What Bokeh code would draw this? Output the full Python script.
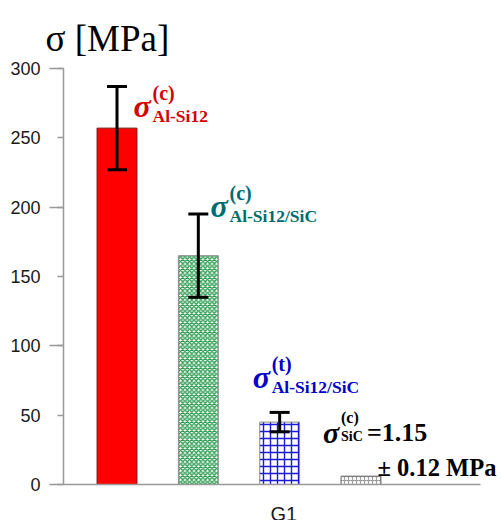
from bokeh.plotting import figure
from bokeh.models import ColumnDataSource, Whisker, TeeHead, FixedTicker, Label, Range1d
from bokeh.embed import file_html
from bokeh.resources import INLINE

# ---- data ----
positions = [1, 2, 3, 4]
values = [257, 165, 45, 6]
errors = [30, 30, 7, 0.12]
group_ticks = [3.05]
group_names = ["G1"]
y_major = [0, 50, 100, 150, 200, 250, 300]
y_minor = [0, 100, 200, 300]
sup_texts = ["(c)", "(c)", "(t)", "(c)"]
sub_texts = ["Al-Si12", "Al-Si12/SiC", "Al-Si12/SiC", "SiC"]
sic_value_text = "=1.15"
sic_err_text = "± 0.12 MPa"
title_text = "σ [MPa]"

fills = ["#ff0000", "#ffffff", "#ffffff", "#9a9a9a"]
hatches = [" ", "x", "+", "o"]
hatch_cols = ["#ff0000", "#23994a", "#1c1cd0", "#ffffff"]
hatch_scales = [5, 4.5, 7, 4]
outlines = ["#7a1010", "#8a8a8a", "#8a8a8a", "#666666"]
label_cols = ["#d40000", "#006b6b", "#0000c8", "#000000"]

serif = "Liberation Serif"
sans = "Liberation Sans"

x_lo, x_hi = 0.342, 5.469
y_lo, y_hi = 0, 300

p = figure(width=502, height=520, output_backend="svg", toolbar_location=None,
           x_range=Range1d(-0.4324, 5.74), y_range=Range1d(-25.96, 349.04),
           min_border_left=0, min_border_right=0, min_border_top=0, min_border_bottom=0)
p.outline_line_color = None
p.grid.grid_line_color = None
p.background_fill_color = "white"
p.title.visible = False

src = ColumnDataSource(dict(x=positions, top=values, fill=fills, hatch=hatches,
                            hcol=hatch_cols, hscale=hatch_scales, line=outlines))
p.vbar(x="x", top="top", width=0.49, bottom=0, source=src, fill_color="fill",
       hatch_pattern="hatch", hatch_color="hcol", hatch_scale="hscale", hatch_weight=1.4,
       line_color="line", line_width=1)

n = 3
wsrc = ColumnDataSource(dict(x=positions[:n],
                             upper=[v + e for v, e in zip(values[:n], errors[:n])],
                             lower=[v - e for v, e in zip(values[:n], errors[:n])]))
w = Whisker(base="x", upper="upper", lower="lower", source=wsrc, line_width=3,
            line_color="black", level="annotation",
            upper_head=TeeHead(size=20, line_width=3, line_color="black"),
            lower_head=TeeHead(size=20, line_width=3, line_color="black"))
p.add_layout(w)

# axes
ya = p.yaxis[0]
ya.fixed_location = x_lo
ya.bounds = (y_lo, y_hi)
ya.ticker = FixedTicker(ticks=y_major, minor_ticks=y_minor)
ya.axis_line_color = "#999999"
ya.axis_line_width = 1.5
ya.major_tick_line_color = "#999999"
ya.major_tick_line_width = 1.5
ya.minor_tick_line_color = "#999999"
ya.minor_tick_line_width = 1.5
ya.major_tick_in = 0
ya.major_tick_out = 6
ya.minor_tick_in = 0
ya.minor_tick_out = 14
ya.major_label_standoff = 9
ya.major_label_text_font = sans
ya.major_label_text_font_size = "18px"
ya.major_label_text_color = "#1a1a1a"

xa = p.xaxis[0]
xa.fixed_location = y_lo
xa.bounds = (x_lo, x_hi)
xa.ticker = FixedTicker(ticks=group_ticks)
xa.major_label_overrides = {t: n_ for t, n_ in zip(group_ticks, group_names)}
xa.axis_line_color = "#999999"
xa.axis_line_width = 1.5
xa.major_tick_line_color = None
xa.minor_tick_line_color = None
xa.major_label_standoff = 12
xa.major_label_text_font = sans
xa.major_label_text_font_size = "20px"
xa.major_label_text_color = "#1a1a1a"


def lab(x, y, dx, dy, text, size, color="black", style="normal"):
    p.add_layout(Label(x=x, y=y, x_offset=dx, y_offset=dy, text=text,
                       text_font=serif, text_font_style=style,
                       text_font_size=size, text_color=color,
                       text_baseline="alphabetic", level="overlay"))


# axis title above the top of the value axis
lab(x_lo, y_hi, -18, 30, title_text, "37px")

# sigma labels for first three bars: offsets of sigma relative to error-bar top
sig_off = [(16.5, -19), (12.2, 8.6), (-27, 35)]
for i in range(3):
    ax = positions[i]
    ay = values[i] + errors[i]
    dx, dy = sig_off[i]
    c = label_cols[i]
    lab(ax, ay, dx, dy, "σ", "32px", c, "bold italic")
    lab(ax, ay, dx + 19, dy + 13, sup_texts[i], "20px", c, "bold")
    lab(ax, ay, dx + 19, dy - 10, sub_texts[i], "17.5px", c, "bold")

# SiC label, relative to gray bar top
ax, ay = positions[3], values[3]
dx, dy = -38, 43.7
lab(ax, ay, dx, dy, "σ", "30px", "black", "bold italic")
lab(ax, ay, dx + 18, dy + 15, sup_texts[3], "16px", "black", "bold")
lab(ax, ay, dx + 18, dy - 4, sub_texts[3], "14px", "black", "bold")
lab(ax, ay, dx + 44, dy, sic_value_text, "26px", "black", "bold")
lab(ax, ay, 16.5, 8.7, sic_err_text, "24.5px", "black", "bold")

open("out.html", "w").write(file_html(p, INLINE))
